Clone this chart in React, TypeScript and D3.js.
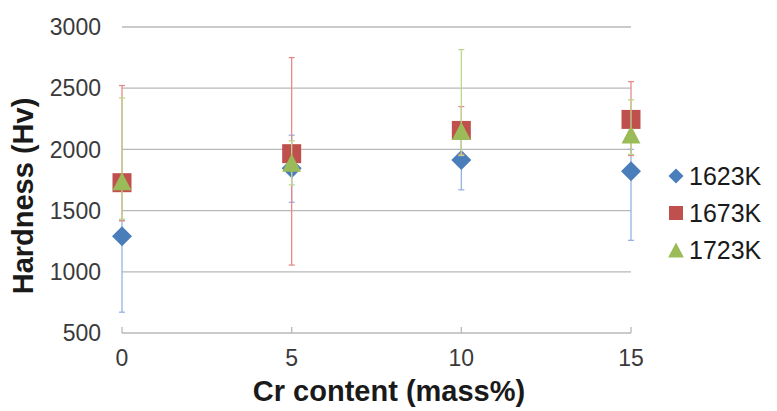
import * as d3 from 'd3';

// Cr content (mass%) and hardness (Hv) per annealing temperature
const crContent = [0, 5, 10, 15];
const seriesNames = ['1623K', '1673K', '1723K'];
const hardness1623 = [1290, 1845, 1913, 1822];
const upper1623 = [1420, 2116, 2156, 2000];
const lower1623 = [670, 1568, 1670, 1257];
const hardness1673 = [1728, 1965, 2155, 2245];
const upper1673 = [2522, 2750, 2350, 2554];
const lower1673 = [1416, 1055, 1960, 1950];
const hardness1723 = [1740, 1890, 2150, 2122];
const upper1723 = [2420, 2070, 2815, 2405];
const lower1723 = [1430, 1710, 1950, 1960];
const yTicks = [500, 1000, 1500, 2000, 2500, 3000];
const xTicks = [0, 5, 10, 15];

const colors = ['#4a7ebb', '#c0504d', '#9bbb59'];
const barColors = ['#93b4e0', '#e58a88', '#bcd68e'];
const shapes = ['diamond', 'square', 'triangle'];

const W = 777;
const H = 411;

function Marker({ shape, cx, cy, size, fill }: { shape: string; cx: number; cy: number; size: number; fill: string }) {
  const h = size / 2;
  if (shape === 'diamond') {
    return <path d={`M${cx},${cy - h}L${cx + h},${cy}L${cx},${cy + h}L${cx - h},${cy}Z`} fill={fill} />;
  }
  if (shape === 'square') {
    return <rect x={cx - h} y={cy - h} width={size} height={size} fill={fill} />;
  }
  const hw = h * 1.05;
  return <path d={`M${cx},${cy - h}L${cx + hw},${cy + h}L${cx - hw},${cy + h}Z`} fill={fill} />;
}

export default function App() {
  const x = d3.scaleLinear().domain([0, 15]).range([122, 631]);
  const y = d3.scaleLinear().domain([500, 3000]).range([333, 27]);

  const series = [
    { values: hardness1623, upper: upper1623, lower: lower1623 },
    { values: hardness1673, upper: upper1673, lower: lower1673 },
    { values: hardness1723, upper: upper1723, lower: lower1723 },
  ];
  const markerSize = [20, 19, 18];
  const legendSize = [15, 14, 15];
  const font = 'Liberation Sans, Arial, sans-serif';

  return (
    <svg width={W} height={H} style={{ position: 'absolute', left: 0, top: 0, background: '#fff' }} fontFamily={font}>
      {/* gridlines */}
      {yTicks.map(t => (
        <line key={t} x1={x(0)} x2={x(15)} y1={y(t)} y2={y(t)} stroke="#b8b8b8" strokeWidth={1.3} />
      ))}
      {/* x tick marks */}
      {xTicks.map(t => (
        <line key={t} x1={x(t)} x2={x(t)} y1={y(500)} y2={y(500) - 6} stroke="#b8b8b8" strokeWidth={1.3} />
      ))}
      {/* y tick labels */}
      {yTicks.map(t => (
        <text key={t} x={101} y={y(t)} dy="0.36em" textAnchor="end" fontSize={23} fill="#3a3a3a">{t}</text>
      ))}
      {/* x tick labels */}
      {xTicks.map(t => (
        <text key={t} x={x(t)} y={366} textAnchor="middle" fontSize={23} fill="#3a3a3a">{t}</text>
      ))}
      {/* series: error bars then markers */}
      {series.map((s, i) => (
        <g key={i}>
          {crContent.map((c, j) => (
            <g key={j} stroke={barColors[i]} strokeWidth={1.3}>
              <line x1={x(c)} x2={x(c)} y1={y(s.upper[j])} y2={y(s.lower[j])} />
              <line x1={x(c) - 3} x2={x(c) + 3} y1={y(s.upper[j])} y2={y(s.upper[j])} />
              <line x1={x(c) - 3} x2={x(c) + 3} y1={y(s.lower[j])} y2={y(s.lower[j])} />
            </g>
          ))}
          {crContent.map((c, j) => (
            <Marker key={j} shape={shapes[i]} cx={x(c)} cy={y(s.values[j])} size={markerSize[i]} fill={colors[i]} />
          ))}
        </g>
      ))}
      {/* legend */}
      {seriesNames.map((n, i) => (
        <g key={n}>
          <Marker shape={shapes[i]} cx={676} cy={176 + i * 37} size={legendSize[i]} fill={colors[i]} />
          <text x={689} y={176 + i * 37} dy="0.36em" fontSize={25} fill="#1a1a1a">{n}</text>
        </g>
      ))}
      {/* axis titles */}
      <text x={389} y={401} textAnchor="middle" fontSize={29} fontWeight="bold" fill="#1a1a1a">Cr content (mass%)</text>
      <text transform="translate(33,196) rotate(-90)" textAnchor="middle" fontSize={29} fontWeight="bold" fill="#1a1a1a">Hardness (Hv)</text>
    </svg>
  );
}
